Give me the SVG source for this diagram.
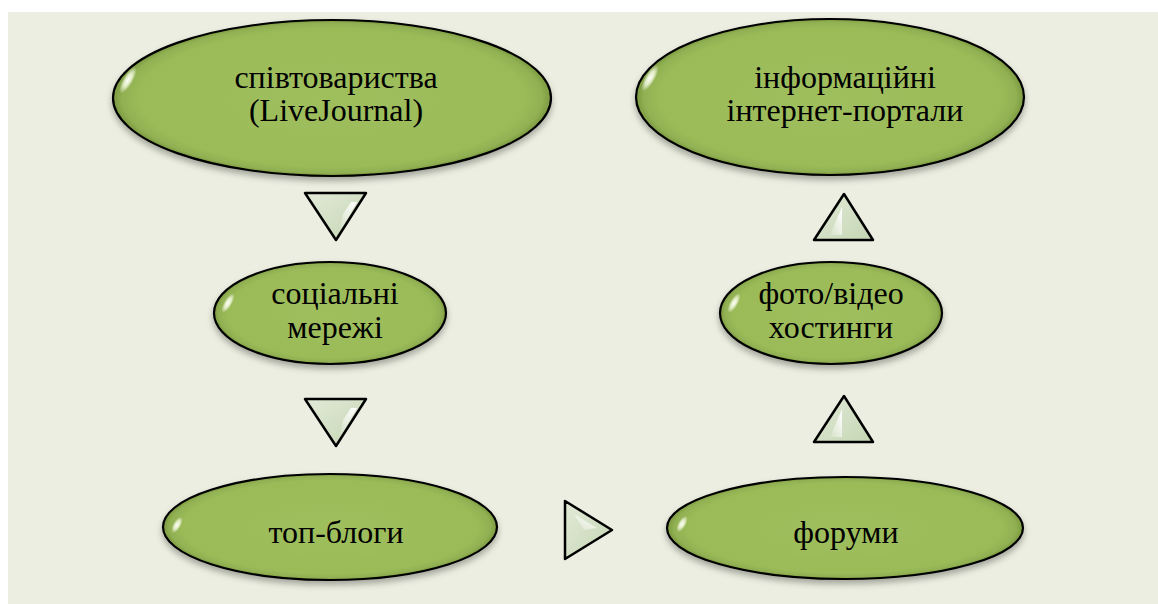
<svg xmlns="http://www.w3.org/2000/svg" width="1158" height="604" viewBox="0 0 1158 604">
<defs>
<style>
.ell{fill:url(#eg);stroke:#000;stroke-width:2.2;filter:url(#sh)}
.tri{fill:url(#tg);stroke:#000;stroke-width:2.5;stroke-linejoin:round}
.t{font-family:"Liberation Serif","Times New Roman","DejaVu Serif",serif;font-size:32px;fill:#000;text-anchor:middle}
.gl{fill:url(#hg)}
.tgl{fill:url(#tw)}
</style>
<radialGradient id="eg" cx="0.5" cy="0.5" r="0.5">
<stop offset="0" stop-color="#9fbe5c"/>
<stop offset="0.88" stop-color="#9bbb59"/>
<stop offset="0.96" stop-color="#91b052"/>
<stop offset="1" stop-color="#7a9940"/>
</radialGradient>
<linearGradient id="tg" x1="0" y1="0" x2="1" y2="1">
<stop offset="0" stop-color="#e2ead8"/>
<stop offset="1" stop-color="#c5d6b3"/>
</linearGradient>
<linearGradient id="tw" x1="1" y1="0" x2="0" y2="1">
<stop offset="0" stop-color="#ffffff" stop-opacity="1"/>
<stop offset="1" stop-color="#ffffff" stop-opacity="0.1"/>
</linearGradient>
<radialGradient id="hg" cx="0.5" cy="0.5" r="0.5">
<stop offset="0" stop-color="#ffffff" stop-opacity="1"/>
<stop offset="0.5" stop-color="#f4fbe0" stop-opacity="0.8"/>
<stop offset="1" stop-color="#ffffff" stop-opacity="0"/>
</radialGradient>
<filter id="sh" x="-10%" y="-10%" width="120%" height="130%">
<feDropShadow dx="0" dy="4" stdDeviation="3" flood-color="#000" flood-opacity="0.3"/>
</filter>
</defs>
<rect x="8" y="12" width="1150" height="592" fill="#ebeee0"/>
<g id="connectors">
<polygon class="tri" points="305,193 366,193 336,240"/>
<path class="tgl" d="M351,202 L357,202 L340,231 L343,214 Z"/>
<polygon class="tri" points="305,399 366,399 336,446"/>
<path class="tgl" d="M351,408 L357,408 L340,437 L343,420 Z"/>
<polygon class="tri" points="565,501 565,559 612,530"/>
<path class="tgl" d="M574,514 L597,528 L584,530 Z"/>
<polygon class="tri" points="844,194 814,240 873,240"/>
<path class="tgl" d="M842,207 L842,235 L830,235 Z"/>
<polygon class="tri" points="844,396 814,442 873,442"/>
<path class="tgl" d="M842,409 L842,437 L830,437 Z"/>
</g>
<g id="n1">
<ellipse class="ell" cx="332" cy="98" rx="219" ry="78"/>
<ellipse class="gl" cx="128" cy="80" rx="5" ry="15" transform="rotate(30 128 80)"/>
<text class="t" x="336" y="88">співтовариства</text>
<text class="t" x="336" y="121">(LiveJournal)</text>
</g>
<g id="n2">
<ellipse class="ell" cx="830" cy="97" rx="194" ry="78"/>
<ellipse class="gl" cx="650" cy="78" rx="5" ry="15" transform="rotate(30 650 78)"/>
<text class="t" x="845" y="88">інформаційні</text>
<text class="t" x="845" y="121">інтернет-портали</text>
</g>
<g id="n3">
<ellipse class="ell" cx="330" cy="313" rx="116" ry="51"/>
<ellipse class="gl" cx="228" cy="303" rx="4" ry="11" transform="rotate(30 228 303)"/>
<text class="t" x="335" y="304">соціальні</text>
<text class="t" x="335" y="338">мережі</text>
</g>
<g id="n4">
<ellipse class="ell" cx="831" cy="313" rx="111" ry="51"/>
<ellipse class="gl" cx="734" cy="303" rx="4" ry="11" transform="rotate(30 734 303)"/>
<text class="t" x="831" y="304">фото/відео</text>
<text class="t" x="831" y="338">хостинги</text>
</g>
<g id="n5">
<ellipse class="ell" cx="330" cy="527" rx="167" ry="53"/>
<ellipse class="gl" cx="177" cy="525" rx="4" ry="9" transform="rotate(30 177 525)"/>
<text class="t" x="336" y="543">топ-блоги</text>
</g>
<g id="n6">
<ellipse class="ell" cx="845" cy="528" rx="178" ry="51"/>
<ellipse class="gl" cx="682" cy="524" rx="4" ry="9" transform="rotate(30 682 524)"/>
<text class="t" x="846" y="543">форуми</text>
</g>
</svg>
